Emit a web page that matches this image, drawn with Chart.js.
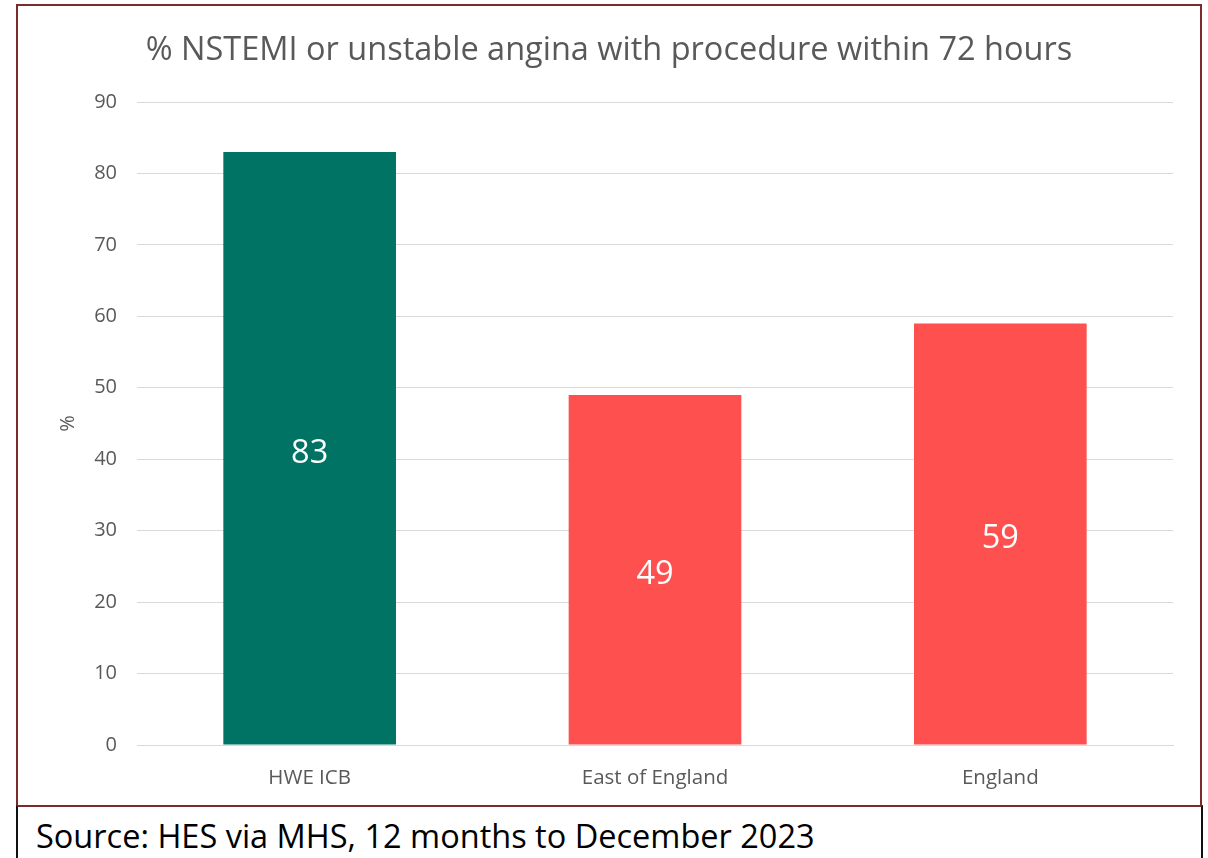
<!DOCTYPE html>
<html>
<head>
<meta charset="utf-8">
<script src="https://cdn.jsdelivr.net/npm/chart.js@4"></script>
<style>
  body { margin: 0; background: #fff; width: 1208px; height: 858px; overflow: hidden; position: relative; }
  #chartBox { position: absolute; left: 16px; top: 4px; width: 1182px; height: 799px; border: 2px solid #7b2b2b; background: #fff; }
  #sourceBox { position: absolute; left: 16px; top: 805px; width: 1183px; height: 80px; border: 2px solid #111; border-top-color: #7b2b2b; }
  #sourceBox span { position: absolute; left: 18px; top: 6px; font-family: "Open Sans", sans-serif; font-size: 32.5px; color: #000; }
</style>
</head>
<body>
<div id="chartBox"><canvas id="chart" width="1182" height="799"></canvas></div>
<div id="sourceBox"><span>Source: HES via MHS, 12 months to December 2023</span></div>
<script>
const categories = ['HWE ICB', 'East of England', 'England'];
const values = [83, 49, 59];
const barColors = ['#007364', '#ff5050', '#ff5050'];
const yTicks = [0, 10, 20, 30, 40, 50, 60, 70, 80, 90];

const FONT = '"Open Sans", sans-serif';

const barLabels = {
    id: 'barLabels',
    afterDatasetsDraw(chart) {
        const ctx = chart.ctx;
        const meta = chart.getDatasetMeta(0);
        ctx.save();
        ctx.fillStyle = '#fff';
        ctx.font = '32.5px ' + FONT;
        ctx.textAlign = 'center';
        ctx.textBaseline = 'middle';
        meta.data.forEach((bar, i) => {
            const mid = (bar.y + bar.base) / 2;
            ctx.fillText(values[i], bar.x, mid + 5);
        });
        ctx.restore();
    }
};

new Chart(document.getElementById('chart'), {
    type: 'bar',
    data: {
        labels: categories,
        datasets: [{
            data: values,
            backgroundColor: barColors,
            categoryPercentage: 1,
            barPercentage: 0.5
        }]
    },
    options: {
        responsive: false,
        animation: false,
        layout: { padding: { top: 0, right: 27, bottom: 0, left: 27 } },
        plugins: {
            legend: { display: false },
            tooltip: { enabled: false },
            title: {
                display: true,
                text: '% NSTEMI or unstable angina with procedure within 72 hours',
                color: '#595959',
                font: { family: FONT, size: 32.5, weight: 'normal', lineHeight: 1.2 },
                padding: { top: 25.5, bottom: 31.5 }
            }
        },
        scales: {
            x: {
                grid: { display: false },
                border: { color: '#d9d9d9', width: 1 },
                ticks: { color: '#595959', font: { family: FONT, size: 20.5 }, padding: 12.5 },
                afterFit(scale) { scale.height = 60; }
            },
            y: {
                min: 0,
                max: 90,
                afterBuildTicks(scale) { scale.ticks = yTicks.map(v => ({ value: v })); },
                grid: { color: '#d9d9d9', lineWidth: 1, drawTicks: false },
                border: { display: false },
                ticks: { color: '#595959', font: { family: FONT, size: 20 }, padding: 20 },
                title: {
                    display: true,
                    text: '%',
                    color: '#595959',
                    font: { family: FONT, size: 20 },
                    padding: { top: 11, bottom: 0 }
                },
                afterFit(scale) { scale.width = 92; }
            }
        }
    },
    plugins: [barLabels]
});
</script>
</body>
</html>
